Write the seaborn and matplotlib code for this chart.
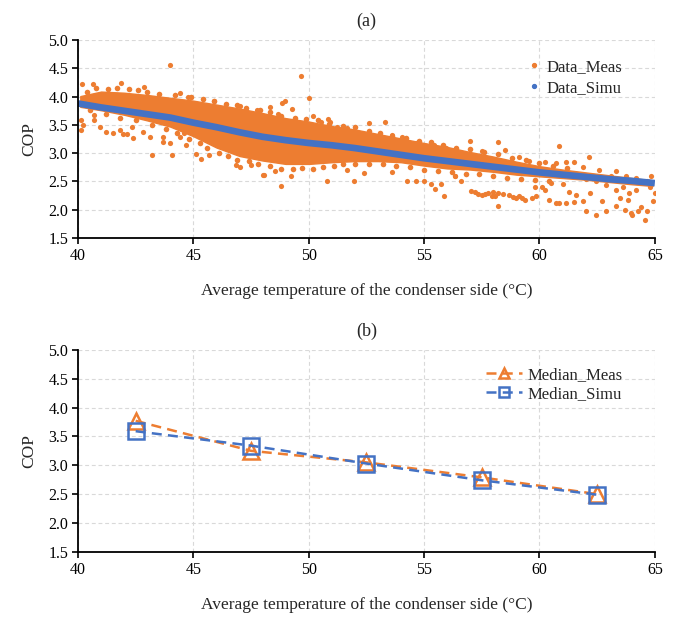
import matplotlib
matplotlib.use("Agg")
import matplotlib.pyplot as plt
import seaborn as sns
import pandas as pd
from matplotlib.lines import Line2D

# colours (Excel-like)
ORANGE = '#ED7D31'
BLUE = '#4472C4'

# ---- (a) measured data: dense core band read per degree ----
core_T = [40.1, 41, 42, 43, 44, 45, 46, 47, 48, 49, 50, 51, 52, 53, 54, 55, 56, 57, 58, 59, 60, 61, 62, 63, 64, 64.9]
core_high = [4.01, 4.09, 4.07, 4.03, 3.98, 3.93, 3.86, 3.79, 3.71, 3.62, 3.56, 3.48, 3.42, 3.34, 3.26, 3.18,
             3.11, 3.02, 2.94, 2.85, 2.77, 2.71, 2.66, 2.61, 2.56, 2.52]
core_low = [3.82, 3.76, 3.68, 3.58, 3.47, 3.30, 3.10, 2.95, 2.87, 2.81, 2.81, 2.84, 2.86, 2.86, 2.84, 2.78,
            2.73, 2.71, 2.67, 2.62, 2.59, 2.56, 2.53, 2.49, 2.45, 2.42]

# ---- (a) measured data: points along the ragged edges of the core ----
edge_T = [40.4, 40.8, 41.3, 41.7, 42.2, 42.6, 43.0, 43.5, 44.2, 44.9, 45.4, 45.9, 46.4, 46.9, 47.3, 47.9,
          48.3, 48.8, 49.4, 49.9, 50.4, 50.9, 51.5, 52.0, 52.6, 53.1, 53.6, 54.2, 54.8, 55.3, 55.8, 56.4,
          57.0, 57.6, 58.2, 58.8, 59.4, 60.0, 60.6, 61.2,
          40.5, 41.2, 41.8, 42.5, 43.2, 43.8, 44.3, 44.8, 45.3, 45.6, 46.1, 46.5, 46.9, 47.4, 47.8, 48.3,
          48.8, 49.3, 49.7, 50.2, 50.6, 51.1, 51.5, 52.0, 52.6, 53.2, 53.8, 54.4, 55.0, 55.6, 56.2, 56.8,
          57.4, 58.0, 58.6, 59.2, 59.8, 60.4]
edge_COP = [4.08, 4.15, 4.14, 4.16, 4.13, 4.11, 4.09, 4.05, 4.03, 4.00, 3.95, 3.93, 3.87, 3.86, 3.80, 3.76,
            3.72, 3.66, 3.63, 3.60, 3.58, 3.52, 3.48, 3.46, 3.40, 3.36, 3.30, 3.27, 3.22, 3.20, 3.14, 3.10,
            3.08, 3.02, 2.99, 2.92, 2.88, 2.82, 2.78, 2.74,
            3.76, 3.70, 3.62, 3.58, 3.50, 3.42, 3.36, 3.25, 3.18, 3.10, 3.00, 2.95, 2.88, 2.86, 2.80, 2.78,
            2.72, 2.72, 2.74, 2.72, 2.76, 2.78, 2.80, 2.80, 2.80, 2.80, 2.78, 2.76, 2.70, 2.68, 2.66, 2.64,
            2.63, 2.60, 2.56, 2.55, 2.52, 2.50]

# ---- (a) measured data: scattered points outside the core ----
meas_T = [44.0, 40.19, 40.66, 41.86, 42.86, 40.11, 40.23, 40.11, 40.69, 40.69, 40.97, 41.23, 41.51, 41.83,
          41.97, 42.14, 42.4, 42.33, 42.83, 43.11, 43.19, 43.69, 43.69, 43.97, 44.09, 44.4, 44.61, 44.69,
          45.11, 45.33, 45.69, 45.9, 47.04, 46.83, 47.04, 47.51, 48.0, 47.76, 44.4, 44.76,
          49.68, 50.0, 48.85, 48.99, 48.34, 49.28, 48.66, 50.17, 50.53, 50.82, 50.92, 51.21, 51.64, 52.62,
          53.31, 53.63, 54.06, 54.64, 55.43, 55.94, 48.04, 48.52, 48.78, 49.24, 50.78, 51.64, 51.97, 52.41,
          53.63, 54.28, 54.64, 55.0, 55.29, 55.48, 55.72, 55.86, 56.34,
          56.98, 58.19, 60.85, 62.16, 57.49, 58.51, 59.1, 59.53, 60.26, 60.7, 61.14, 61.5, 61.87, 62.59,
          63.32, 63.76, 64.2, 64.78, 65.0, 64.93, 64.64, 64.56, 64.27, 63.98, 63.69, 63.83, 63.32, 62.89,
          62.45, 62.01, 61.87, 61.5, 61.14, 60.7, 60.41, 60.26, 59.68, 59.39, 59.1, 58.66, 58.22, 57.78,
          57.2, 57.49, 58.08, 58.22, 59.0, 59.85, 60.85, 61.58, 62.45, 62.89, 63.32, 63.62, 64.2, 64.64,
          56.33, 56.62, 56.25, 57.35, 57.65, 57.95, 58.4, 58.85, 59.25, 58.0, 57.05, 60.1, 61.3, 62.2,
          62.7, 63.1, 64.0, 64.4, 64.85, 63.5, 61.0, 60.5, 59.8, 62.0, 63.9]
meas_COP = [4.56, 4.22, 4.22, 4.25, 4.18, 3.59, 3.50, 3.41, 3.68, 3.59, 3.47, 3.38, 3.35, 3.41,
            3.34, 3.34, 3.26, 3.47, 3.38, 3.28, 2.97, 3.29, 3.19, 3.18, 2.97, 3.29, 3.35, 3.15,
            2.99, 2.89, 2.97, 3.93, 3.84, 2.79, 2.76, 2.79, 2.62, 3.76, 4.06, 3.99,
            4.36, 3.98, 3.89, 3.92, 3.81, 3.79, 3.69, 3.65, 3.56, 3.60, 3.56, 3.47, 3.44, 3.53,
            3.55, 3.32, 3.29, 3.18, 3.15, 3.09, 2.62, 2.68, 2.42, 2.59, 2.51, 2.71, 2.51, 2.65,
            2.66, 2.51, 2.51, 2.51, 2.46, 2.36, 2.46, 2.24, 2.59,
            3.22, 3.19, 3.13, 2.93, 3.03, 3.05, 2.94, 2.87, 2.85, 2.82, 2.84, 2.85, 2.76, 2.71,
            2.68, 2.59, 2.56, 2.41, 2.29, 2.15, 1.97, 1.82, 1.97, 1.94, 2.00, 2.18, 2.06, 1.97,
            1.91, 1.97, 2.15, 2.13, 2.12, 2.12, 2.18, 2.35, 2.21, 2.18, 2.25, 2.26, 2.29, 2.29,
            2.31, 2.26, 2.24, 2.07, 2.21, 2.24, 2.12, 2.26, 2.50, 2.44, 2.35, 2.41, 2.35, 2.50,
            2.59, 2.50, 2.82, 2.28, 2.27, 2.25, 2.27, 2.23, 2.20, 2.31, 2.33, 2.40, 2.32, 2.30,
            2.16, 2.60, 1.90, 2.05, 2.60, 2.20, 2.45, 2.48, 2.40, 2.55, 2.30]

# ---- (a) simulated data ----
simu_T = [40, 41, 42, 43, 44, 45, 46, 47, 48, 49, 50, 51, 52, 53, 54, 55, 56, 57, 58, 59, 60, 61, 62, 63, 64, 65]
simu_COP = [3.88, 3.81, 3.75, 3.69, 3.63, 3.54, 3.46, 3.37, 3.29, 3.23, 3.18, 3.14, 3.09, 3.03, 2.97, 2.91,
            2.86, 2.81, 2.76, 2.71, 2.66, 2.62, 2.58, 2.54, 2.51, 2.47]

# ---- (b) medians ----
bin_T = [42.5, 47.5, 52.5, 57.5, 62.5]
median_meas = [3.77, 3.25, 3.05, 2.79, 2.50]
median_simu = [3.59, 3.34, 3.03, 2.74, 2.49]

sns.set_style('white')
plt.rcParams['font.family'] = ['Liberation Serif', 'DejaVu Serif']

fig = plt.figure(figsize=(6.8, 6.18), dpi=100)
ax1 = fig.add_axes([0.1147, 0.615, 0.8483, 0.32])
ax2 = fig.add_axes([0.1147, 0.107, 0.8483, 0.327])


def style_axes(ax):
    ax.set_xlim(40, 65)
    ax.set_ylim(1.5, 5.0)
    ax.set_xticks(range(40, 66, 5))
    ax.set_yticks([1.5, 2.0, 2.5, 3.0, 3.5, 4.0, 4.5, 5.0])
    ax.set_yticklabels(['%.1f' % v for v in [1.5, 2.0, 2.5, 3.0, 3.5, 4.0, 4.5, 5.0]])
    ax.grid(True, linestyle=(0, (3.5, 2.5)), color='#d9d9d9', linewidth=0.8)
    ax.set_axisbelow(True)
    for s in ['top', 'right']:
        ax.spines[s].set_visible(False)
    for s in ['left', 'bottom']:
        ax.spines[s].set_color('black')
        ax.spines[s].set_linewidth(1.3)
    ax.tick_params(axis='both', direction='out', length=4, width=1.2, colors='black',
                   labelsize=11.5, left=True, bottom=True, pad=3)
    ax.set_ylabel('COP', fontsize=12.5, labelpad=8)
    ax.set_xlabel('Average temperature of the condenser side (\u00b0C)', fontsize=12.5, labelpad=14)


# (a)
ax1.fill_between(core_T, core_low, core_high, color=ORANGE, linewidth=1.0, edgecolor=ORANGE)
sns.scatterplot(x=edge_T, y=edge_COP, ax=ax1, color=ORANGE, s=16, linewidth=0)
sns.scatterplot(x=meas_T, y=meas_COP, ax=ax1, color=ORANGE, s=14, linewidth=0)
sns.lineplot(x=simu_T, y=simu_COP, ax=ax1, color=BLUE, linewidth=4.8, solid_capstyle='butt')
style_axes(ax1)
ax1.set_title('(a)', fontsize=13, pad=10)
h_a = [Line2D([], [], marker='o', color=ORANGE, linestyle='none', markersize=2.8),
       Line2D([], [], marker='o', color=BLUE, linestyle='none', markersize=2.8)]
ax1.legend(h_a, ['Data_Meas', 'Data_Simu'], loc='upper right', bbox_to_anchor=(0.97, 0.98),
           frameon=False, fontsize=12, handlelength=0.5, handletextpad=0.5, labelspacing=0.3)

# (b)
df = pd.DataFrame({'T': bin_T, 'meas': median_meas, 'simu': median_simu})
sns.lineplot(data=df, x='T', y='meas', ax=ax2, color=ORANGE, linestyle=(0, (4, 2.5)), linewidth=1.8,
             marker='^', markersize=11, markerfacecolor='none', markeredgecolor=ORANGE,
             markeredgewidth=1.8, label='Median_Meas')
sns.lineplot(data=df, x='T', y='simu', ax=ax2, color=BLUE, linestyle=(0, (4, 2.5)), linewidth=1.8,
             marker='s', markersize=11, markerfacecolor='none', markeredgecolor=BLUE,
             markeredgewidth=1.8, label='Median_Simu')
style_axes(ax2)
ax2.set_title('(b)', fontsize=13, pad=10)
ax2.legend(loc='upper right', bbox_to_anchor=(0.97, 0.99), frameon=False, fontsize=12,
           handlelength=2.2, handletextpad=0.3, labelspacing=0.2, markerscale=0.7)

fig.savefig('out.png', dpi=100)
